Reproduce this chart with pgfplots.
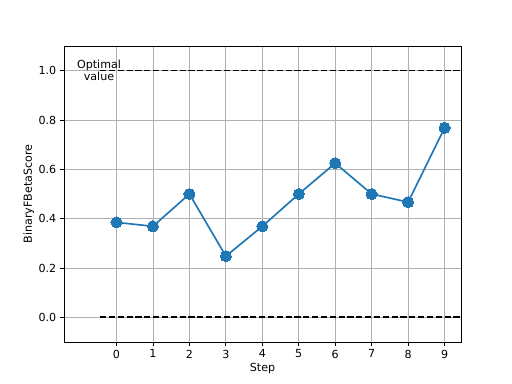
\documentclass[border=0pt]{standalone}
\usepackage{pgfplots}
\pgfplotsset{compat=1.18}
\usepackage{fontspec}
\setmainfont{DejaVu Sans}
\definecolor{mplblue}{HTML}{1F77B4}
\definecolor{gridgray}{HTML}{B0B0B0}
\begin{document}
\begin{tikzpicture}
\path[use as bounding box] (-57.6pt,-37.8pt) rectangle (403.2pt,307.8pt);
\begin{axis}[
  scale only axis,
  width=357.3pt, height=266.4pt,
  xmin=-1.44, xmax=9.45,
  ymin=-0.1, ymax=1.1,
  xtick={0,...,9},
  ytick={0,0.2,0.4,0.6,0.8,1.0},
  yticklabel style={/pgf/number format/.cd,fixed,fixed zerofill,precision=1},
  /pgf/number format/assume math mode=true,
  tick label style={font=\fontsize{10}{12}\selectfont},
  label style={font=\fontsize{10}{12}\selectfont},
  xlabel={Step}, ylabel={BinaryFBetaScore},
  xlabel style={yshift=2pt},
  ylabel style={yshift=-3pt},
  tick pos=left,
  tick align=outside,
  major tick length=3.5pt,
  every tick/.style={black, line width=0.8pt},
  axis line style={line width=0.8pt},
  grid=major,
  major grid style={gridgray, line width=0.8pt},
  clip=true,
]
\addplot[black, line width=1.5pt, dash pattern=on 5.55pt off 2.4pt] coordinates {(-0.45,1.0) (9.5,1.0)};
\addplot[black, line width=1.5pt, dash pattern=on 5.55pt off 2.4pt] coordinates {(-0.45,0.0) (9.5,0.0)};
\addplot[mplblue, line width=1.5pt, mark=*, mark size=5pt, mark options={fill=mplblue, draw=mplblue, line width=0pt}] coordinates {
(0,0.385) (1,0.369) (2,0.5) (3,0.248) (4,0.369) (5,0.5) (6,0.625) (7,0.5) (8,0.467) (9,0.768)
};
\node[align=center, font=\fontsize{10}{11}\selectfont, inner sep=0pt] at (axis cs:-0.48,1.0) {Optimal\\value};
\end{axis}
\end{tikzpicture}
\end{document}
